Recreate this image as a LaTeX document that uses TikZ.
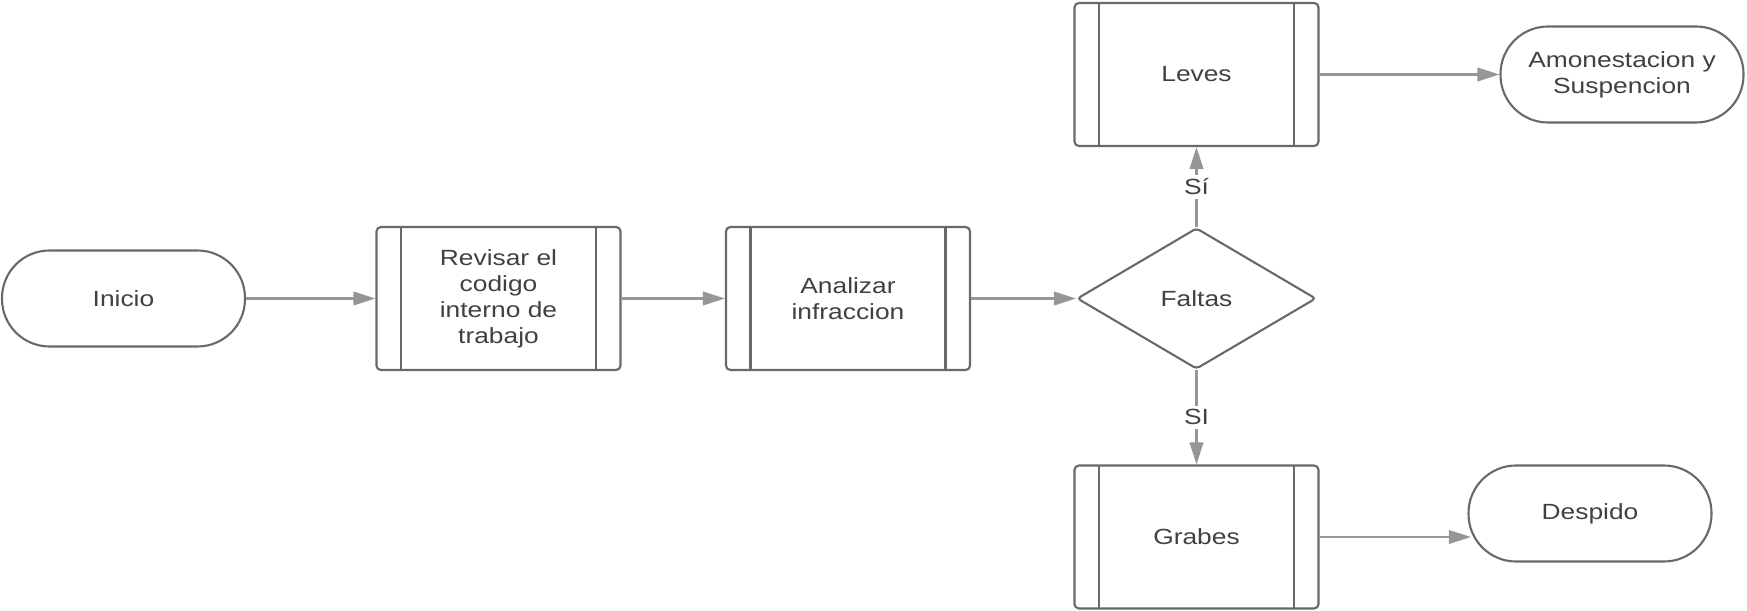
\documentclass[tikz,border=0pt]{standalone}
\usepackage{fontspec}
\setmainfont{Liberation Sans}[FakeStretch=1.2]
\usepackage{tikz}
\usetikzlibrary{positioning,arrows.meta,shapes.geometric}
\definecolor{linegray}{RGB}{105,105,105}
\definecolor{arrowgray}{RGB}{150,150,150}
\definecolor{textgray}{RGB}{65,65,65}
\tikzset{
  flowarrow/.style={-{Triangle[length=4.4mm, width=2.7mm]}, line width=1.3pt, draw=arrowgray, arrowgray},
  terminal/.style={draw=linegray, line width=1.2pt, rounded corners=0.95cm, fill=white, minimum width=4.86cm, minimum height=1.92cm, align=center},
  procbox/.style={draw=linegray, line width=1.2pt, rounded corners=2.5pt, fill=white, minimum width=4.88cm, minimum height=2.86cm, align=center,
    path picture={
      \draw[linegray, line width=1.2pt] ([xshift=0.49cm]path picture bounding box.north west) -- ([xshift=0.49cm]path picture bounding box.south west);
      \draw[linegray, line width=1.2pt] ([xshift=-0.49cm]path picture bounding box.north east) -- ([xshift=-0.49cm]path picture bounding box.south east);
    }},
  decision/.style={draw=linegray, line width=1.2pt, diamond, rounded corners=2pt, fill=white, minimum width=4.78cm, minimum height=2.82cm, align=center, inner sep=0pt},
  relabel/.style={fill=white, inner sep=2pt, text=textgray}
}

\begin{document}
\begin{tikzpicture}[every node/.style={font=\fontsize{12.5}{14.8}\selectfont, text=textgray}]
  \useasboundingbox (0,0) rectangle (34.94,-12.22);
  \node[terminal] (inicio) at (2.47,-5.97) {Inicio};
  \node[procbox] (revisar) at (9.97,-5.97) {Revisar el\\codigo\\interno de\\trabajo};
  \node[procbox] (analizar) at (16.96,-5.97) {Analizar\\infraccion};
  \node[decision] (faltas) at (23.93,-5.97) {Faltas};
  \node[procbox] (leves) at (23.93,-1.49) {Leves};
  \node[procbox] (grabes) at (23.93,-10.74) {Grabes};
  \node[terminal] (amonest) at (32.44,-1.49) {Amonestacion y\\Suspencion};
  \node[terminal] (despido) at (31.8,-10.27) {Despido};
  \draw[flowarrow] (inicio) -- (revisar);
  \draw[flowarrow] (revisar) -- (analizar);
  \draw[flowarrow] (analizar) -- (faltas);
  \draw[flowarrow] (faltas) -- node[relabel] {Sí} (leves);
  \draw[flowarrow] (faltas) -- node[relabel] {SI} (grabes);
  \draw[flowarrow] (leves) -- (amonest);
  \draw[flowarrow] (grabes.east) -- ([xshift=2pt]grabes.east -| despido.west);
\end{tikzpicture}
\end{document}
